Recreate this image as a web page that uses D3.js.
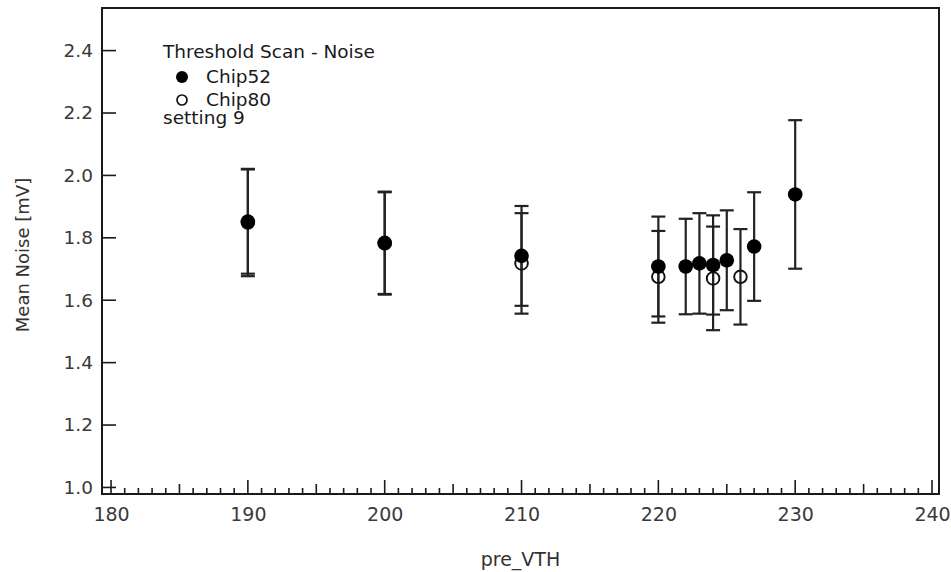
<!DOCTYPE html>
<html>
<head>
<meta charset="utf-8">
<script src="https://cdn.jsdelivr.net/npm/d3@7/dist/d3.min.js"></script>
<style>
  html, body { margin: 0; padding: 0; background: #fff; }
  svg { display: block; font-family: "DejaVu Sans", sans-serif; }
</style>
</head>
<body>
<svg id="chart" width="951" height="572"></svg>
<script>
// ---- data ----
const chip52X   = [190, 200, 210, 220, 222, 223, 224, 225, 227, 230];
const chip52Y   = [1.852, 1.784, 1.742, 1.708, 1.708, 1.718, 1.713, 1.728, 1.772, 1.939];
const chip52Err = [0.167, 0.164, 0.160, 0.160, 0.153, 0.161, 0.159, 0.160, 0.174, 0.238];

const chip80X   = [190, 200, 210, 220, 224, 226];
const chip80Y   = [1.849, 1.782, 1.718, 1.675, 1.670, 1.675];
const chip80Err = [0.172, 0.164, 0.161, 0.147, 0.166, 0.153];

const xTickValues = [180, 190, 200, 210, 220, 230, 240];
const yTickValues = [1.0, 1.2, 1.4, 1.6, 1.8, 2.0, 2.2, 2.4];
const xTitle = "pre_VTH";
const yTitle = "Mean Noise [mV]";
const legendTitle = "Threshold Scan - Noise";
const seriesNames = ["Chip52", "Chip80"];
const legendNote = "setting 9";

// ---- layout ----
const svg = d3.select("#chart");
const L = 102, R = 939, T = 8, B = 494;
const x = d3.scaleLinear().domain([179.34, 240.51]).range([L, R]);
const y = d3.scaleLinear().domain([0.979, 2.5365]).range([B, T]);
const ink = "#1a1a1a";

// frame
svg.append("rect").attr("x", L).attr("y", T).attr("width", R - L).attr("height", B - T)
  .attr("fill", "none").attr("stroke", ink).attr("stroke-width", 2);

// x axis ticks (inward), minor every 1, medium every 5, major every 10
const minorX = d3.range(180, 241, 1);
svg.append("g").selectAll("line").data(minorX).join("line")
  .attr("x1", d => x(d)).attr("x2", d => x(d))
  .attr("y1", B)
  .attr("y2", d => B - (d % 10 === 0 ? 14 : d % 5 === 0 ? 10 : 6))
  .attr("stroke", ink).attr("stroke-width", 1.6);

const xAxis = d3.axisBottom(x).tickValues(xTickValues).tickSize(0).tickPadding(14).tickFormat(d3.format("d"));
const gx = svg.append("g").attr("transform", `translate(0,${B})`).call(xAxis);
gx.select(".domain").remove();
gx.selectAll("text").attr("font-size", 19).attr("fill", "#3a3a3a").attr("font-family", "DejaVu Sans");

// y axis ticks (inward)
svg.append("g").selectAll("line").data(yTickValues).join("line")
  .attr("x1", L).attr("x2", L + 14)
  .attr("y1", d => y(d)).attr("y2", d => y(d))
  .attr("stroke", ink).attr("stroke-width", 1.6);

const yAxis = d3.axisLeft(y).tickValues(yTickValues).tickSize(0).tickPadding(9).tickFormat(d3.format(".1f"));
const gy = svg.append("g").attr("transform", `translate(${L},0)`).call(yAxis);
gy.select(".domain").remove();
gy.selectAll("text").attr("font-size", 18.5).attr("fill", "#3a3a3a").attr("font-family", "DejaVu Sans");

// axis titles
svg.append("text").attr("x", (L + R) / 2).attr("y", 566).attr("text-anchor", "middle")
  .attr("font-size", 19).attr("fill", "#333").text(xTitle);
svg.append("text").attr("transform", `translate(29,${255}) rotate(-90)`).attr("text-anchor", "middle")
  .attr("font-size", 18).attr("fill", "#333").text(yTitle);

// error bars
function errorBars(xs, ys, es) {
  const data = xs.map((d, i) => ({ x: d, y: ys[i], e: es[i] }));
  const g = svg.append("g").attr("stroke", "#222").attr("stroke-width", 2.2).attr("fill", "none");
  g.selectAll(".v").data(data).join("line")
    .attr("x1", d => x(d.x)).attr("x2", d => x(d.x))
    .attr("y1", d => y(d.y + d.e)).attr("y2", d => y(d.y - d.e));
  g.selectAll(".t").data(data).join("line")
    .attr("x1", d => x(d.x) - 7).attr("x2", d => x(d.x) + 7)
    .attr("y1", d => y(d.y + d.e)).attr("y2", d => y(d.y + d.e));
  g.selectAll(".b").data(data).join("line")
    .attr("x1", d => x(d.x) - 7).attr("x2", d => x(d.x) + 7)
    .attr("y1", d => y(d.y - d.e)).attr("y2", d => y(d.y - d.e));
  return data;
}
const d80 = errorBars(chip80X, chip80Y, chip80Err);
const d52 = errorBars(chip52X, chip52Y, chip52Err);

// markers
svg.append("g").selectAll("circle").data(d80).join("circle")
  .attr("cx", d => x(d.x)).attr("cy", d => y(d.y)).attr("r", 6.3)
  .attr("fill", "none").attr("stroke", "#111").attr("stroke-width", 1.9);
svg.append("g").selectAll("circle").data(d52).join("circle")
  .attr("cx", d => x(d.x)).attr("cy", d => y(d.y)).attr("r", 7.3)
  .attr("fill", "#000");

// legend
const lg = svg.append("g").attr("font-size", 18.5).attr("fill", "#1a1a1a");
lg.append("text").attr("x", 163).attr("y", 58).text(legendTitle);
lg.append("circle").attr("cx", 182).attr("cy", 77).attr("r", 6).attr("fill", "#000");
lg.append("text").attr("x", 206).attr("y", 83).text(seriesNames[0]);
lg.append("circle").attr("cx", 182).attr("cy", 100).attr("r", 5).attr("fill", "none").attr("stroke", "#111").attr("stroke-width", 1.7);
lg.append("text").attr("x", 206).attr("y", 106).text(seriesNames[1]);
lg.append("text").attr("x", 163).attr("y", 124).text(legendNote);
</script>
</body>
</html>
